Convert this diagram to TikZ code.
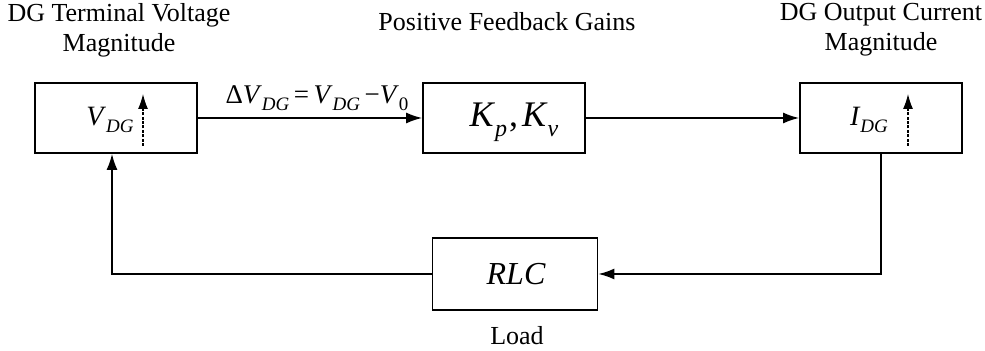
\documentclass[tikz,border=0pt]{standalone}
\usepackage{fontspec}
\setmainfont{Liberation Serif}
\usetikzlibrary{arrows.meta}
\newcommand\sbx[1]{\raisebox{-0.6ex}{\fontsize{9.5}{9.5}\selectfont\itshape #1}}
\newcommand\sbu[1]{\raisebox{-0.6ex}{\fontsize{9.5}{9.5}\selectfont #1}}
\begin{document}
\begin{tikzpicture}[x=0.5pt,y=-0.5pt,
  blk/.style={draw,line width=0.85pt,minimum width=81pt,minimum height=35pt,inner sep=0pt},
  lbl/.style={font=\fontsize{13}{15}\selectfont,align=center,inner sep=0pt},
  arr/.style={line width=0.85pt,-{Latex[length=8pt,width=5.5pt]}},
  updash/.style={line width=0.6pt,dash pattern=on 1.5pt off 0.7pt,-{Latex[length=7.5pt,width=5pt]}}]
\useasboundingbox (0,0) rectangle (985,351);
% blocks
\node[blk] (vdg) at (116,118) {};
\node[blk] (k) at (504,118) {};
\node[blk] (idg) at (881,118) {};
\node[blk,minimum width=82.5pt,minimum height=36pt] (rlc) at (515,274) {};
% block contents
\node[inner sep=0pt,font=\fontsize{14}{14}\selectfont] (tv) at (110,120) {\textit{V}\sbx{DG}};
\node[inner sep=0pt,font=\fontsize{18}{18}\selectfont] (tk) at (514,122) {\textit{K}\raisebox{-0.6ex}{\fontsize{12}{12}\selectfont\itshape p}\kern1pt,\kern2pt\textit{K}\raisebox{-0.6ex}{\fontsize{12}{12}\selectfont\itshape v}};
\node[inner sep=0pt,font=\fontsize{14}{14}\selectfont] (ti) at (869,120) {\textit{I}\sbx{DG}};
\node[inner sep=0pt,font=\fontsize{16}{16}\selectfont\itshape] (tr) at (516,274) {RLC};
% small up arrows
\coordinate (a1s) at (143,146); \coordinate (a1e) at (143,94);
\coordinate (a3s) at (908,146); \coordinate (a3e) at (908,94);
\draw[updash] (a1s) -- (a1e);
\draw[updash] (a3s) -- (a3e);
% labels
\node[lbl] (l1) at (119,30) {DG Terminal Voltage\\Magnitude};
\node[lbl] (l2) at (507,22) {Positive Feedback Gains};
\node[lbl] (l3) at (881,30) {DG Output Current\\Magnitude};
\node[lbl] (l4) at (517,336) {Load};
% connectors
\draw[arr] (vdg.east) -- node[above=3pt,xshift=3.5pt,inner sep=0pt,pos=0.5,font=\fontsize{13.5}{13.5}\selectfont] (dv) {Δ\textit{V}\sbx{DG}\,=\,\textit{V}\sbx{DG}\,−\textit{V}\sbu{0}} (k.west);
\draw[arr] (k.east) -- (idg.west);
\draw[arr] (idg.south) |- (rlc.east);
\draw[arr] (rlc.west) -| ([xshift=-2pt]vdg.south);
\end{tikzpicture}
\end{document}
